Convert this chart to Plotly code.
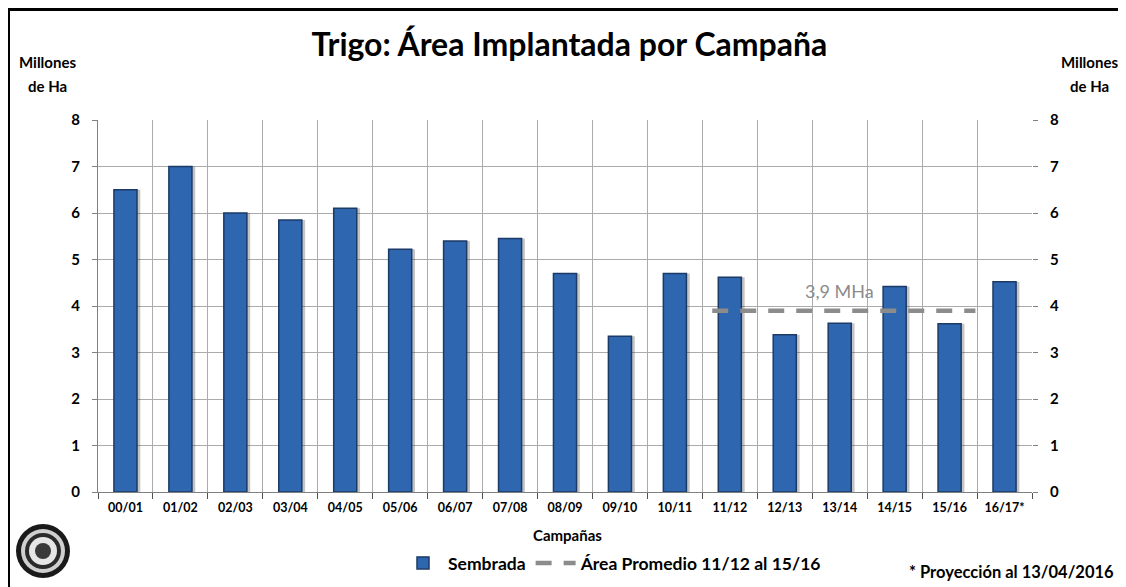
import plotly.graph_objects as go

campaigns = ["00/01", "01/02", "02/03", "03/04", "04/05", "05/06", "06/07", "07/08", "08/09",
             "09/10", "10/11", "11/12", "12/13", "13/14", "14/15", "15/16", "16/17*"]
sembrada = [6.5, 7.0, 6.0, 5.85, 6.1, 5.22, 5.4, 5.45, 4.7, 3.35, 4.7, 4.62, 3.38, 3.63, 4.42, 3.62, 4.52]
avg_value = 3.9
avg_label = "3,9 MHa"
avg_start, avg_end = "11/12", "15/16"
y_ticks = [0, 1, 2, 3, 4, 5, 6, 7, 8]

FONT = "Lato"
BAR = "#2F66B0"
BAR_EDGE = "#1B3A66"
GRID = "#ABABAB"
AVG = "#8C8C8C"

# page body has an 8px margin, so the figure is sized to the visible area
W, H = 1118, 579
L, R, T, B = 90, 94, 112, 95
PW, PH = W - L - R, H - T - B


def px(xf):
    return (xf - L) / PW


def py(yf):
    return (H - B - yf) / PH


xs = list(range(len(campaigns)))
i0, i1 = campaigns.index(avg_start), campaigns.index(avg_end)

fig = go.Figure()
# bar shadow
fig.add_trace(go.Bar(x=xs, y=sembrada, width=0.42, offset=-0.15,
                     marker=dict(color="rgba(60,60,60,0.30)", line=dict(width=0)),
                     showlegend=False, hoverinfo="skip"))
fig.add_trace(go.Bar(x=xs, y=sembrada, width=0.42, offset=-0.21, name="<b>Sembrada</b>",
                     marker=dict(color=BAR, line=dict(color=BAR_EDGE, width=1.5))))
fig.add_trace(go.Scatter(x=[i0 - 0.32, i1 + 0.47], y=[avg_value, avg_value], mode="lines",
                         name="<b>Área Promedio 11/12 al 15/16</b>",
                         line=dict(color=AVG, width=4.5, dash="16px,12px")))
fig.add_trace(go.Scatter(x=[i0], y=[avg_value], yaxis="y2", mode="markers",
                         marker=dict(opacity=0), showlegend=False, hoverinfo="skip"))

fig.add_annotation(x=(i0 + i1) / 2, y=avg_value, yshift=20, text=avg_label, showarrow=False,
                   xanchor="center", yanchor="middle",
                   font=dict(family=FONT, size=18, color=AVG))

tick_txt = [f"<b>{v}</b>" for v in y_ticks]
fig.update_layout(
    width=W, height=H,
    margin=dict(l=L, r=R, t=T, b=B, autoexpand=False),
    paper_bgcolor="white", plot_bgcolor="white",
    barmode="overlay",
    font=dict(family=FONT, color="black"),
    title=dict(text="<b>Trigo: Área Implantada por Campaña</b>", x=px(559), xanchor="center",
               y=1 - 37 / H, yanchor="middle", font=dict(family=FONT, size=32, color="black")),
    xaxis=dict(range=[-0.5, len(campaigns) - 0.5], tickmode="array", tickvals=xs,
               ticktext=[f"<b>{c}</b>" for c in campaigns], tickfont=dict(size=12.5, family=FONT),
               showgrid=False, ticks="", showline=True, linecolor="#808080", linewidth=1,
               minor=dict(tick0=-0.5, dtick=1, showgrid=True, gridcolor=GRID, gridwidth=1,
                          ticks="outside", ticklen=6, tickcolor="#505050"),
               zeroline=False, automargin=False, ticklabelstandoff=4),
    yaxis=dict(range=[0, 8], tickvals=y_ticks, ticktext=tick_txt,
               tickfont=dict(size=15, family=FONT), showgrid=True, gridcolor=GRID, gridwidth=1,
               ticks="outside", ticklen=5, tickcolor="#808080", showline=True, linecolor="#808080",
               zeroline=False, ticklabelstandoff=9, automargin=False),
    yaxis2=dict(range=[0, 8], tickvals=y_ticks, ticktext=tick_txt,
                tickfont=dict(size=15, family=FONT), overlaying="y", side="right",
                showgrid=False, ticks="outside", ticklen=5, tickcolor="#808080",
                showline=False, zeroline=False, ticklabelstandoff=9, automargin=False),
    legend=dict(orientation="h", x=px(390), xanchor="left", y=py(555), yanchor="middle",
                font=dict(family=FONT, size=17.5, color="black"), itemwidth=40,
                bgcolor="rgba(0,0,0,0)", tracegroupgap=0),
    showlegend=True,
)

for xf in (39, 1081):
    fig.add_annotation(xref="paper", yref="paper", x=px(xf), y=py(54), text="<b>Millones</b>",
                       xanchor="center", yanchor="middle",
                       showarrow=False, font=dict(size=15, family=FONT))
    fig.add_annotation(xref="paper", yref="paper", x=px(xf), y=py(78), text="<b>de Ha</b>",
                       xanchor="center", yanchor="middle",
                       showarrow=False, font=dict(size=15, family=FONT))

fig.add_annotation(xref="paper", yref="paper", x=px(559), y=py(527), text="<b>Campañas</b>",
                   xanchor="center", yanchor="middle",
                   showarrow=False, font=dict(size=15, family=FONT))
fig.add_annotation(xref="paper", yref="paper", x=px(1108), y=py(564), xanchor="right",
                   yanchor="middle", text="<b>* Proyección al 13/04/2016</b>", showarrow=False,
                   font=dict(size=16.5, family=FONT))

# outer frame (right and bottom edges fall outside the picture)
fig.add_shape(type="rect", xref="paper", yref="paper", x0=px(0), x1=px(1125), y0=py(H + 20),
              y1=py(1), line=dict(color="black", width=4), layer="below")

# emblem (decorative)
for r, col in ((27, "#1A1A1A"), (22, "#CFCFCF"), (18, "#2A2A2A"), (14, "#E6E6E6"), (8, "#3A3A3A")):
    fig.add_shape(type="circle", xref="paper", yref="paper", xsizemode="pixel", ysizemode="pixel",
                  xanchor=px(35), yanchor=py(543), x0=-r, x1=r, y0=-r, y1=r,
                  fillcolor=col, line=dict(width=0))

fig.write_html("out.html")
